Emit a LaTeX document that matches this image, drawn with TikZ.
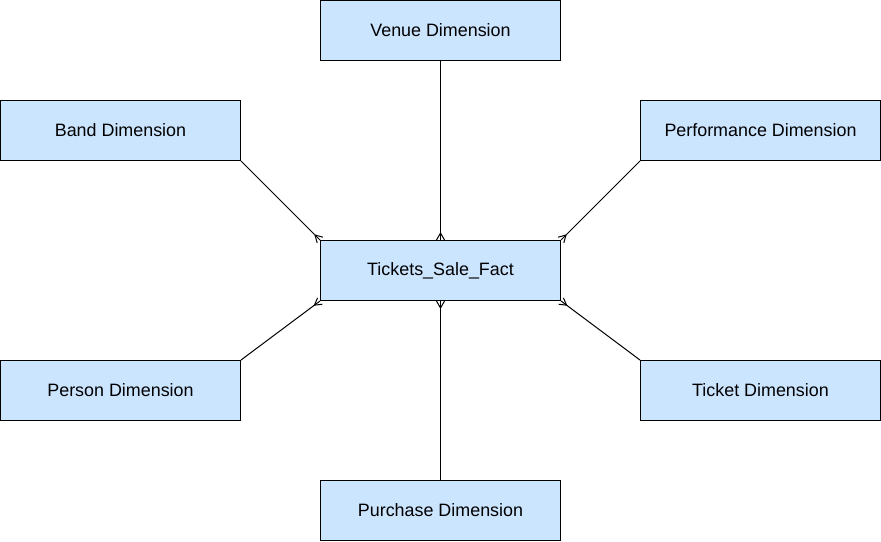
\documentclass[tikz,border=0pt]{standalone}
\usepackage{fontspec}
\setmainfont{Liberation Sans}
\usetikzlibrary{calc}
\definecolor{boxfill}{HTML}{CCE5FF}
\begin{document}
\begin{tikzpicture}[x=1pt,y=-1pt,
  ent/.style={draw=black,fill=boxfill,line width=1pt,minimum width=240pt,minimum height=60pt,inner sep=0pt,font=\fontsize{17.9}{20}\selectfont},
  conn/.style={draw=black,line width=1pt}]
\useasboundingbox (0,0) rectangle (881,541);
\node[ent] (venue) at (440.5,30.5) {Venue Dimension};
\node[ent] (band) at (120.5,130.5) {Band Dimension};
\node[ent] (perf) at (760.5,130.5) {Performance Dimension};
\node[ent] (fact) at (440.5,270.5) {Tickets\_Sale\_Fact};
\node[ent] (person) at (120.5,390.5) {Person Dimension};
\node[ent] (ticket) at (760.5,390.5) {Ticket Dimension};
\node[ent] (purchase) at (440.5,510.5) {Purchase Dimension};
\newcommand{\crowconn}[2]{%
  \draw[conn] (#1) -- (#2);
  \draw[conn] ($(#2)!4pt!90:(#1)$) -- ($(#2)!7pt!(#1)$) -- ($(#2)!4pt!-90:(#1)$);
}
\crowconn{venue.south}{fact.north}
\crowconn{purchase.north}{fact.south}
\crowconn{band.south east}{fact.north west}
\crowconn{perf.south west}{fact.north east}
\crowconn{person.north east}{fact.south west}
\crowconn{ticket.north west}{fact.south east}
\end{tikzpicture}
\end{document}
